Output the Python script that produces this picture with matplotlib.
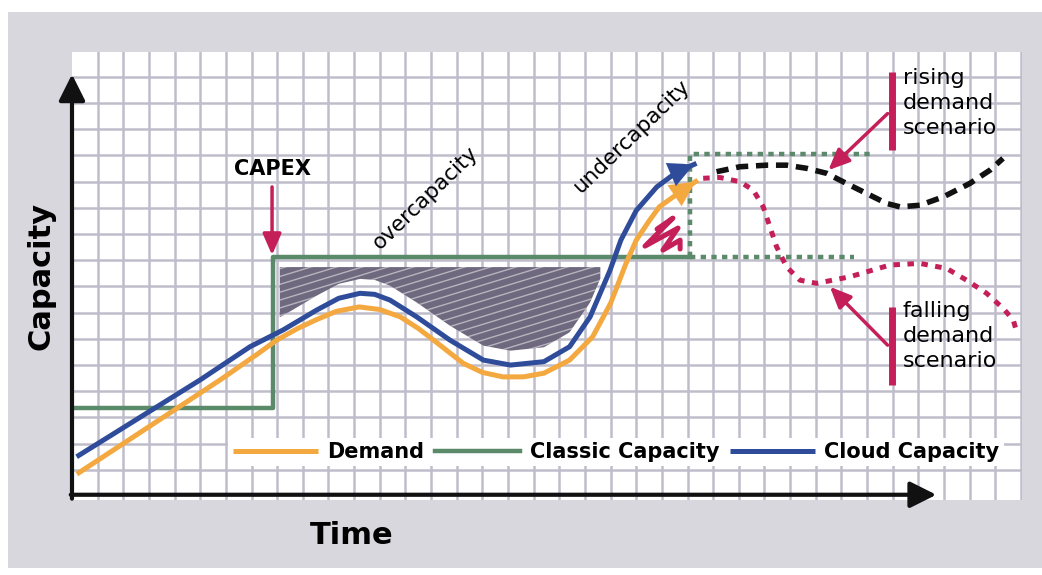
import numpy as np
import matplotlib
matplotlib.use("Agg")
import matplotlib.pyplot as plt
from matplotlib.patches import Rectangle, Polygon

# everything is in grid cells: x = time, y = capacity
demand_t = [0.19, 5.77, 7.2, 7.98, 8.8, 9.5, 10.3, 11.2, 12.0, 12.8, 13.5, 14.1, 15.25, 16.0,
            16.8, 17.6, 18.4, 19.4, 20.3, 21.0, 21.6, 22.0, 22.5, 22.9, 23.7, 24.4]
demand_c = [0.84, 4.43, 5.4, 5.95, 6.4, 6.72, 7.05, 7.22, 7.12, 6.84, 6.4, 5.95, 5.07, 4.72,
            4.55, 4.55, 4.69, 5.19, 6.08, 7.36, 8.88, 9.77, 10.5, 11.04, 11.6, 12.06]

cloud_t = [0.18, 4.99, 6.94, 8.23, 9.54, 10.4, 11.23, 11.8, 12.4, 13.44, 14.74, 16.04, 17.1,
           18.4, 19.4, 20.2, 20.97, 21.4, 22.0, 22.8, 23.6, 24.35]
cloud_c = [1.5, 4.43, 5.70, 6.34, 7.1, 7.55, 7.74, 7.7, 7.48, 6.84, 5.95, 5.19, 5.0,
           5.13, 5.7, 6.84, 8.6, 9.77, 10.9, 11.8, 12.38, 12.7]

classic_t = [0, 7.84, 7.84, 24.1]
classic_c = [3.35, 3.35, 9.12, 9.12]

# dotted box after the step
box_top_t = [24.1, 24.1, 31.2]
box_top_c = [9.12, 13.05, 13.05]
box_low_t = [24.1, 30.5]
box_low_c = [9.12, 9.12]

rising_t = [25.13, 26.04, 27.08, 27.86, 28.64, 29.42, 30.2, 30.98, 31.76, 32.28, 33.06,
            33.97, 35.0, 35.79, 36.3]
rising_c = [12.38, 12.57, 12.63, 12.63, 12.51, 12.32, 11.93, 11.55, 11.17, 11.04, 11.1,
            11.42, 11.93, 12.44, 12.89]

falling_t = [24.61, 25.26, 26.04, 26.56, 26.95, 27.21, 27.47, 27.86, 28.38, 29.03, 30.33,
             31.89, 33.06, 34.1, 34.88, 35.66, 36.31, 36.7, 36.83]
falling_c = [12.13, 12.16, 12.0, 11.68, 11.04, 10.28, 9.52, 8.75, 8.24, 8.12, 8.37,
             8.82, 8.88, 8.69, 8.24, 7.74, 7.16, 6.72, 6.27]

# the little red scribble in the undercapacity gap
scrib_t = [22.81, 23.43, 22.34, 23.63, 23.04, 23.71, 23.71]
scrib_c = [10.19, 10.61, 9.54, 10.23, 9.39, 9.77, 9.43]

ORANGE = "#f4a840"
BLUE = "#2f4c9a"
GREEN = "#5b8a6b"
CRIMSON = "#c41f58"
GRIDC = "#c0bdca"

plt.rcParams["font.family"] = ["DejaVu Sans"]

fig = plt.figure(figsize=(10.42, 5.75), dpi=100, facecolor="white")
fig.patches.append(Rectangle((8 / 1042, 7 / 575), 1 - 8 / 1042, 556 / 575,
                             transform=fig.transFigure, facecolor="#d8d7de",
                             edgecolor="none", zorder=-10))

ax = fig.add_axes([72 / 1042, 75 / 575, 950 / 1042, 448 / 575])
ax.set_facecolor("white")
ax.set_xlim(0, 37.04)
ax.set_ylim(-0.15, 16.95)
ax.set_xticks(np.arange(1, 38))
ax.set_yticks(np.arange(1, 17))
ax.grid(True, color=GRIDC, lw=1.8)
ax.tick_params(length=0, labelbottom=False, labelleft=False)
for s in ax.spines.values():
    s.set_visible(False)
ax.set_axisbelow(True)

# overcapacity scribble
xs = np.linspace(8.1, 20.6, 200)
low = np.interp(xs, cloud_t, cloud_c) + 0.55
keep = low < 8.74
xs, low = xs[keep], low[keep]
verts = list(zip(xs, np.full_like(xs, 8.74))) + list(zip(xs[::-1], low[::-1]))
area = Polygon(verts, closed=True, facecolor="#6e697e", edgecolor="none", zorder=2)
ax.add_patch(area)
for off in np.arange(-12, 6, 0.3):
    xx = np.array([7.5, 21.5])
    ln, = ax.plot(xx, off + 0.3 * (xx - 7.5) + 4.0, color="white", lw=1.0, alpha=0.5, zorder=2.1)
    ln.set_clip_path(area)

ax.plot(scrib_t, scrib_c, color=CRIMSON, lw=3.6, solid_capstyle="round",
        solid_joinstyle="round", zorder=3)

ax.plot(classic_t, classic_c, color=GREEN, lw=3.2, zorder=3, label="Classic Capacity")
ax.plot(box_top_t, box_top_c, color=GREEN, lw=3.2, ls=(0, (1.2, 1.2)), zorder=3)
ax.plot(box_low_t, box_low_c, color=GREEN, lw=3.2, ls=(0, (1.2, 1.2)), zorder=3)

ax.plot(demand_t, demand_c, color=ORANGE, lw=3.6, zorder=4, label="Demand",
        solid_capstyle="butt", solid_joinstyle="round")
ax.plot(cloud_t, cloud_c, color=BLUE, lw=3.6, zorder=4, label="Cloud Capacity",
        solid_capstyle="butt", solid_joinstyle="round")
for tt, cc, col in [(demand_t, demand_c, ORANGE), (cloud_t, cloud_c, BLUE)]:
    ax.annotate("", xy=(tt[-1], cc[-1]), xytext=(tt[-2], cc[-2]),
                arrowprops=dict(arrowstyle="-|>,head_length=1.0,head_width=0.5",
                                color=col, lw=0.1, mutation_scale=18), zorder=5)

ax.plot(rising_t, rising_c, color="#111111", lw=4, ls=(0, (2.2, 1.4)), zorder=4)
ax.plot(falling_t, falling_c, color=CRIMSON, lw=3.6, ls=(0, (1.3, 1.5)), zorder=4)

# axes arrows
arrow = dict(arrowstyle="-|>,head_length=0.8,head_width=0.4", color="#111111",
             lw=3, mutation_scale=20, shrinkA=0, shrinkB=0)
ax.annotate("", xy=(0, 16.1), xytext=(0, -0.1), arrowprops=arrow, annotation_clip=False, zorder=6)
ax.annotate("", xy=(33.7, 0.05), xytext=(-0.05, 0.05), arrowprops=arrow, annotation_clip=False, zorder=6)

ax.text(-1.2, 8.4, "Capacity", rotation=90, ha="center", va="center",
        fontsize=22, fontweight="bold", clip_on=False)
ax.text(10.9, -1.5, "Time", ha="center", va="center", fontsize=22, fontweight="bold",
        clip_on=False)

# CAPEX
ax.text(7.8, 12.5, "CAPEX", ha="center", va="center", fontsize=15, fontweight="bold")
red = dict(arrowstyle="-|>,head_length=0.8,head_width=0.35", color=CRIMSON, lw=2.5,
           mutation_scale=16, shrinkA=0, shrinkB=0)
ax.annotate("", xy=(7.8, 9.2), xytext=(7.8, 11.8), arrowprops=red, zorder=6)

ax.text(13.79, 11.37, "overcapacity", rotation=44, rotation_mode="anchor",
        ha="center", va="center", fontsize=15.5)
ax.text(21.8, 13.74, "undercapacity", rotation=44, rotation_mode="anchor",
        ha="center", va="center", fontsize=15.5)

# scenario labels
ax.plot([31.97, 31.97], [16.2, 13.2], color=CRIMSON, lw=5, solid_capstyle="butt", zorder=6)
ax.plot([31.97, 31.97], [7.23, 4.24], color=CRIMSON, lw=5, solid_capstyle="butt", zorder=6)
ax.annotate("", xy=(29.49, 12.44), xytext=(31.8, 14.6), arrowprops=red, zorder=6)
ax.annotate("", xy=(29.55, 7.99), xytext=(31.8, 5.76), arrowprops=red, zorder=6)
ax.text(32.4, 16.35, "rising\ndemand\nscenario", ha="left", va="top", fontsize=16,
        linespacing=1.33, zorder=6)
ax.text(32.4, 7.45, "falling\ndemand\nscenario", ha="left", va="top", fontsize=16,
        linespacing=1.33, zorder=6)

h, l = ax.get_legend_handles_labels()
order = [l.index("Demand"), l.index("Classic Capacity"), l.index("Cloud Capacity")]
leg = ax.legend([h[i] for i in order], [l[i] for i in order], ncol=3,
                loc="center left", bbox_to_anchor=(6.1, 1.68), bbox_transform=ax.transData,
                frameon=True, fancybox=False, framealpha=1, facecolor="white",
                edgecolor="none", handlelength=4.1, handletextpad=0.45, columnspacing=0.5,
                borderpad=0.2, borderaxespad=0,
                prop=dict(size=15, weight="bold"))
leg.set_zorder(7)

fig.savefig("out.png", dpi=100, facecolor=fig.get_facecolor())
